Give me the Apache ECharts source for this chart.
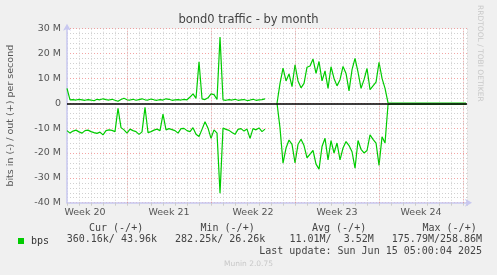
<!DOCTYPE html>
<html>
<head>
<meta charset="utf-8">
<script src="https://cdn.jsdelivr.net/npm/echarts@6/dist/echarts.min.js"></script>
<style>
  html, body { margin: 0; padding: 0; background: #f0f0f0; }
  #chart { width: 497px; height: 275px; }
</style>
</head>
<body>
<div id="chart"></div>
<script>
// one sample every 6 hours, values in Mbit/s, day 0 = left edge of the graph
const STEP = 0.25;
const outM = [
  6.0, 1.4, 1.5, 1.3, 1.6, 1.4, 1.2, 1.5, 1.3, 1.0,
  1.6, 1.4, 1.8, 1.5, 1.3, 1.6, 1.2, 0.8, 1.5, 2.0,
  1.4, 1.3, 1.6, 1.2, 1.5, 1.8, 1.4, 1.3, 1.7, 1.4,
  1.2, 1.5, 1.3, 1.8, 1.6, 1.2, 1.4, 1.5, 1.3, 1.6,
  1.4, 2.5, 3.8, 2.0, 16.7, 1.8, 1.5, 2.2, 3.8, 3.5,
  1.5, 26.6, 1.4, 1.2, 1.5, 1.3, 1.6, 1.2, 1.4, 1.5,
  1.1, 1.3, 1.6, 1.2, 1.4, 1.5, 1.8, null, null, null,
  0, 8, 14.1, 9.0, 11.8, 6.7, 15.5, 9.0, 6.2, 8.0,
  14.5, 15.0, 17.8, 12.0, 16.8, 9.0, 13.0, 6.0, 14.7, 10.0,
  7.0, 9.5, 14.8, 12.0, 5.0, 13.5, 18.1, 12.5, 6.0, 9.5,
  14.0, 5.5, 7.0, 8.5, 16.5, 10.0, 6.0, 0.2, 0.1, 0.1,
  0.1, 0.1, 0.1, 0.1, 0.1, 0.1, 0.1, 0.1, 0.1, 0.1,
  0.1, 0.1, 0.1, 0.1, 0.1, 0.1, 0.1, 0.1, 0.1, 0.1,
  0.1, 0.1, 0.1, 0.1
];
const inM = [
  -11.0, -12.0, -11.2, -10.8, -11.5, -12.0, -11.0, -10.8, -11.4, -11.8,
  -12.1, -11.6, -12.7, -11.0, -10.7, -10.9, -11.4, -2.0, -9.8, -10.7,
  -12.0, -10.4, -11.0, -11.4, -12.5, -11.5, -1.6, -11.8, -11.4, -10.8,
  -10.4, -11.0, -4.4, -10.7, -10.2, -10.6, -11.0, -12.0, -10.2, -10.1,
  -11.0, -11.4, -9.8, -12.5, -13.4, -10.5, -7.4, -10.0, -14.1, -10.7,
  -12.0, -36.2, -10.0, -10.5, -10.9, -11.8, -12.5, -10.5, -10.2, -11.2,
  -10.4, -14.1, -10.2, -10.7, -9.9, -11.4, -10.4, null, null, null,
  0, -10, -24.1, -18.0, -14.8, -16.5, -24.0, -16.5, -14.5, -17.0,
  -22.0, -20.5, -19.0, -24.5, -26.5, -17.4, -14.1, -22.8, -15.0, -20.0,
  -16.0, -22.8, -18.0, -15.4, -17.0, -19.5, -26.1, -15.0, -18.5, -20.0,
  -19.0, -12.7, -14.5, -16.0, -25.0, -13.5, -16.0, -0.5, -0.4, -0.4,
  -0.4, -0.4, -0.4, -0.4, -0.4, -0.4, -0.4, -0.4, -0.4, -0.4,
  -0.4, -0.4, -0.4, -0.4, -0.4, -0.4, -0.4, -0.4, -0.4, -0.4,
  -0.4, -0.4, -0.4, -0.4
];
const weekStarts = [5, 12, 19, 26, 33];
const weekLabels = ['Week 20', 'Week 21', 'Week 22', 'Week 23', 'Week 24'];
const X_MAX = 33.33;
const Y_MIN = -40e6, Y_MAX = 30e6;

const toPts = (arr) => arr.map((v, i) => [i * STEP, v == null ? '-' : v * 1e6]);

const chart = echarts.init(document.getElementById('chart'));
const grey = '#555';
const axisBlue = '#c8c8f0';
const mono = '"DejaVu Sans Mono", monospace';

chart.setOption({
  backgroundColor: '#f0f0f0',
  animation: false,
  title: {
    text: 'bond0 traffic - by month',
    left: 'center',
    top: 9,
    textStyle: { fontFamily: 'DejaVu Sans', fontSize: 11.5, fontWeight: 'normal', color: '#444' }
  },
  legend: {
    data: ['bps'],
    left: 13,
    top: 231,
    icon: 'rect',
    itemWidth: 6,
    itemHeight: 6,
    itemGap: 0,
    textStyle: { fontFamily: mono, fontSize: 10, color: '#333', padding: [0, 0, 0, 2] }
  },
  grid: {
    left: 67, right: 30, top: 28.7, bottom: 72.3,
    outerBoundsMode: 'none',
    show: true, backgroundColor: '#fff', borderWidth: 0
  },
  xAxis: [
    {
      // daily grid
      type: 'value', min: 0, max: X_MAX, interval: 1, position: 'bottom',
      axisLine: { onZero: false, lineStyle: { color: axisBlue, width: 1.5 }, symbol: ['none', 'arrow'], symbolSize: [6, 7], symbolOffset: [0, 5] },
      axisTick: { show: true, length: 3, lineStyle: { color: '#ccc' } },
      axisLabel: { show: false },
      splitLine: { show: true, lineStyle: { color: '#d0d0d0', type: [1, 2], width: 1 } }
    },
    {
      // week labels
      type: 'value', min: 0, max: X_MAX, interval: 0.5, position: 'bottom',
      axisLine: { show: false, onZero: false },
      axisTick: { show: false },
      splitLine: { show: false },
      axisLabel: {
        show: true, margin: 5, fontFamily: 'DejaVu Sans', fontSize: 9.5, color: grey,
        showMinLabel: true, showMaxLabel: false,
        formatter: (v) => {
          const k = weekStarts.findIndex(s => Math.abs(s - 3.5 - v) < 1e-6);
          return k >= 0 ? weekLabels[k] : '';
        }
      }
    }
  ],
  yAxis: {
    type: 'value', min: Y_MIN, max: Y_MAX, interval: 10e6,
    name: 'bits in (-) / out (+) per second',
    nameLocation: 'middle', nameGap: 51,
    nameTextStyle: { fontFamily: 'DejaVu Sans', fontSize: 9.5, color: grey },
    axisLine: { show: true, lineStyle: { color: axisBlue, width: 1.5 }, symbol: ['none', 'arrow'], symbolSize: [6, 7], symbolOffset: [0, 5] },
    axisTick: { show: false },
    axisLabel: {
      margin: 6, fontFamily: 'DejaVu Sans', fontSize: 9.5, color: grey,
      formatter: (v) => v === 0 ? '0' : (v / 1e6) + ' M'
    },
    splitLine: { show: true, lineStyle: { color: 'rgba(235,90,90,0.55)', type: [1, 2], width: 1 } },
    minorTick: { show: false, splitNumber: 5 },
    minorSplitLine: { show: true, lineStyle: { color: '#d0d0d0', type: [1, 2], width: 1 } }
  },
  series: [
    {
      // week boundaries
      type: 'line', data: [], z: 1, silent: true,
      markLine: {
        silent: true, symbol: 'none', animation: false,
        label: { show: false },
        lineStyle: { color: 'rgba(235,90,90,0.55)', type: [1, 2], width: 1 },
        data: weekStarts.map(d => ({ xAxis: d }))
      }
    },
    {
      // zero rule
      type: 'line', data: [], z: 2, silent: true,
      markLine: {
        silent: true, symbol: 'none', animation: false,
        label: { show: false },
        lineStyle: { color: '#000', type: 'solid', width: 1.5 },
        data: [{ yAxis: 0 }]
      }
    },
    {
      name: 'bps', type: 'line', data: toPts(outM), z: 3,
      showSymbol: false, connectNulls: false,
      lineStyle: { color: '#00cc00', width: 1.2 },
      itemStyle: { color: '#00cc00' }
    },
    {
      name: 'bps', type: 'line', data: toPts(inM), z: 3,
      showSymbol: false, connectNulls: false,
      lineStyle: { color: '#00cc00', width: 1.2 },
      itemStyle: { color: '#00cc00' }
    }
  ],
  graphic: [
    { type: 'text', left: 89, top: 223, style: { text: 'Cur (-/+)', font: '10px ' + mono, fill: '#444' } },
    { type: 'text', left: 200.5, top: 223, style: { text: 'Min (-/+)', font: '10px ' + mono, fill: '#444' } },
    { type: 'text', left: 312, top: 223, style: { text: 'Avg (-/+)', font: '10px ' + mono, fill: '#444' } },
    { type: 'text', left: 422.5, top: 223, style: { text: 'Max (-/+)', font: '10px ' + mono, fill: '#444' } },
    { type: 'text', left: 66.7, top: 234.5, style: { text: '360.16k/ 43.96k   282.25k/ 26.26k    11.01M/  3.52M   175.79M/258.86M', font: '10px ' + mono, fill: '#444' } },
    { type: 'text', right: 15, top: 246.5, style: { text: 'Last update: Sun Jun 15 05:00:04 2025', font: '10px ' + mono, fill: '#444' } },
    { type: 'text', left: 'center', top: 260, style: { text: 'Munin 2.0.75', font: '7.5px DejaVu Sans', fill: '#c8c8c8' } },
    { type: 'text', x: 484, y: 5, rotation: -Math.PI / 2, style: { text: 'RRDTOOL / TOBI OETIKER', font: '7.5px DejaVu Sans', fill: '#c8c8c8' } }
  ]
});
</script>
</body>
</html>
